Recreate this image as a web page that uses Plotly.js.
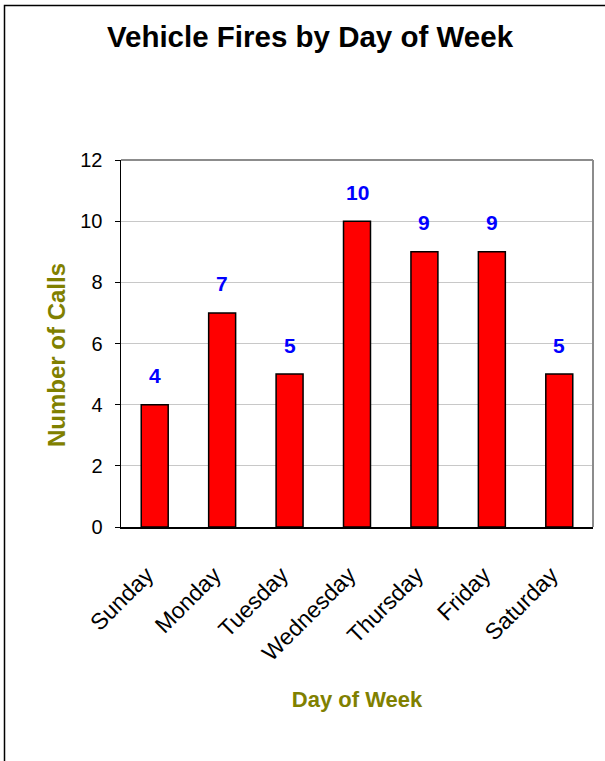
<!DOCTYPE html>
<html>
<head>
<meta charset="utf-8">
<script src="https://cdn.plot.ly/plotly-3.0.1.min.js"></script>
<style>
  html, body { margin: 0; padding: 0; background: #ffffff; }
  #chart { width: 605px; height: 761px; }
</style>
</head>
<body>
<div id="chart"></div>
<script>
// Vehicle fire calls per day of the week
const days = ["Sunday", "Monday", "Tuesday", "Wednesday", "Thursday", "Friday", "Saturday"];
const calls = [4, 7, 5, 10, 9, 9, 5];
const yTicks = [0, 2, 4, 6, 8, 10, 12];

const W = 605, H = 761;
const margin = { l: 121, r: 12, t: 160, b: 234 };
const plotW = W - margin.l - margin.r;
const plotH = H - margin.t - margin.b;
// convert page pixels to paper coordinates for the outer frame and y title
const px = x => (x - margin.l) / plotW;
const py = y => (H - margin.b - y) / plotH;

const FONT = "Liberation Sans, Arial, sans-serif";

const trace = {
  type: "bar",
  x: days,
  y: calls,
  marker: { color: "#ff0000", line: { color: "#000000", width: 1.5 } },
  hoverinfo: "x+y"
};

// value labels above each bar
const valueLabels = days.map((d, i) => ({
  x: d, y: calls[i], xref: "x", yref: "y",
  text: String(calls[i]),
  showarrow: false,
  yanchor: "middle",
  yshift: 29,
  font: { family: FONT, size: 21, color: "#0000ff", weight: "bold" }
}));

// y axis title, set slightly below the plot's middle
const yTitle = {
  xref: "paper", yref: "paper",
  x: px(56), y: py(355),
  xanchor: "center", yanchor: "middle",
  textangle: -90,
  showarrow: false,
  text: "Number of Calls",
  font: { family: FONT, size: 24, color: "#808000", weight: "bold" }
};

const layout = {
  width: W, height: H,
  margin: margin,
  paper_bgcolor: "#ffffff",
  plot_bgcolor: "#ffffff",
  showlegend: false,
  bargap: 0.6,
  font: { family: FONT, color: "#000000" },
  title: {
    text: "Vehicle Fires by Day of Week",
    xref: "container", x: 310 / W, xanchor: "center",
    yref: "container", y: 1 - 37 / H, yanchor: "middle",
    font: { size: 29.5, weight: "bold", color: "#000000" }
  },
  xaxis: {
    type: "category",
    tickangle: -45,
    tickfont: { size: 23, color: "#000000" },
    ticks: "",
    ticklabelstandoff: 24,
    ticklabelshift: -8,
    showline: true, linecolor: "#000000", linewidth: 1.5,
    showgrid: false,
    zeroline: false,
    title: {
      text: "Day of Week",
      standoff: 26,
      font: { size: 22, weight: "bold", color: "#808000" }
    }
  },
  yaxis: {
    range: [0, 12],
    tickvals: yTicks,
    ticktext: yTicks.map(String),
    tickfont: { size: 20, color: "#000000" },
    ticks: "outside", ticklen: 5, tickcolor: "#000000", tickwidth: 1,
    ticklabelstandoff: 8,
    showline: true, linecolor: "#000000", linewidth: 1.5,
    showgrid: true, gridcolor: "#c8c8c8", gridwidth: 1,
    zeroline: false
  },
  annotations: valueLabels.concat([yTitle]),
  shapes: [
    // top and right edges of the plot frame
    { type: "line", xref: "paper", yref: "paper", x0: 0, x1: 1, y0: 1, y1: 1,
      line: { color: "#8c8c8c", width: 2 } },
    { type: "line", xref: "paper", yref: "paper", x0: 1, x1: 1, y0: 0, y1: 1,
      line: { color: "#8c8c8c", width: 2 } },
    // outer chart border
    { type: "rect", xref: "paper", yref: "paper", layer: "above",
      x0: px(4.5), x1: px(W + 20), y0: py(H + 20), y1: py(5.5),
      line: { color: "#000000", width: 1.5 }, fillcolor: "rgba(0,0,0,0)" }
  ]
};

Plotly.newPlot("chart", [trace], layout, { displayModeBar: false, staticPlot: true });
</script>
</body>
</html>
